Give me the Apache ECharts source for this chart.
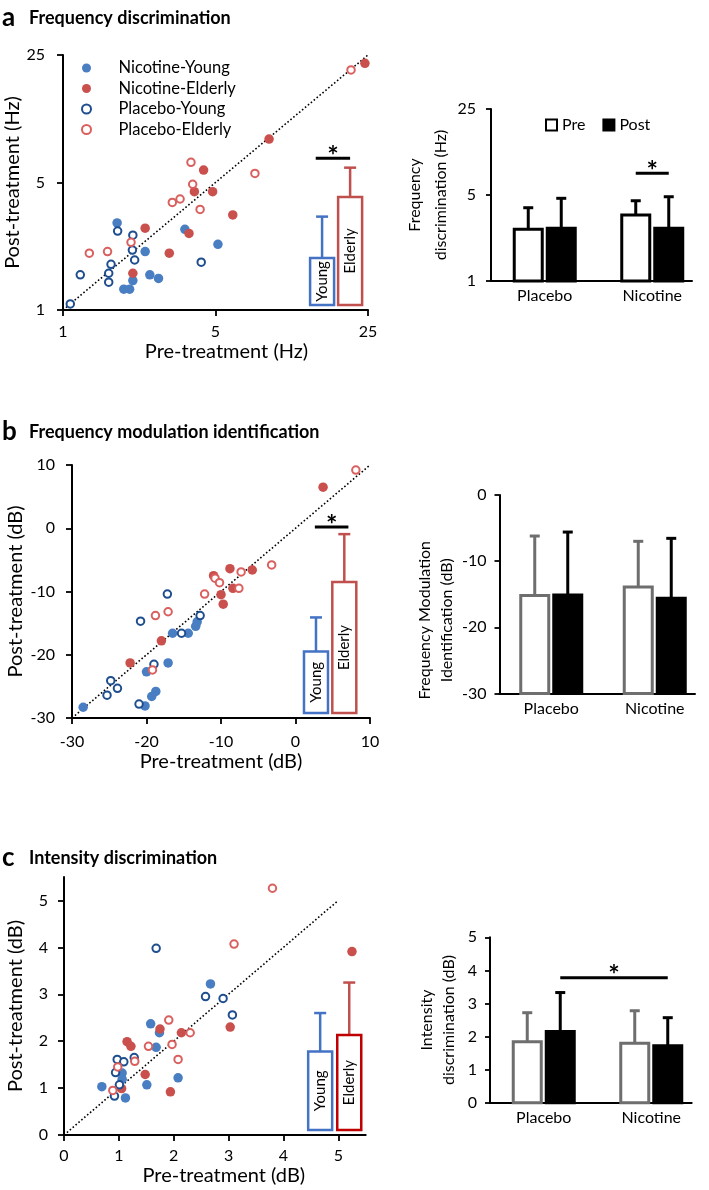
<!DOCTYPE html>
<html><head><meta charset="utf-8">
<script src="https://cdn.jsdelivr.net/npm/echarts@6/dist/echarts.min.js"></script>
<style>html,body{margin:0;padding:0;background:#fff}#c{width:709px;height:1190px}</style>
</head><body><div id="c"></div><script>
// ---------- DATA ----------
const legendNames = ['Nicotine-Young', 'Nicotine-Elderly', 'Placebo-Young', 'Placebo-Elderly'];
const categories = ['Placebo', 'Nicotine'];
const insetGroups = ['Young', 'Elderly'];

// Panel a: frequency discrimination (Hz), [pre, post]
const aNicYoung = [[1.77,3.0],[3.62,2.77],[2.38,2.09],[5.13,2.29],[2.5,1.56],[2.74,1.49],[2.09,1.45],[1.90,1.30],[2.02,1.30]];
const aNicElder = [[24.2,22.5],[8.8,8.65],[4.41,5.85],[4.0,4.45],[4.85,4.45],[6.0,3.32],[2.38,2.81],[3.78,2.63],[3.07,2.05],[2.09,1.59]];
const aPlaYoung = [[1.08,1.08],[1.2,1.56],[1.66,1.78],[1.62,1.59],[1.62,1.42],[1.78,2.71],[2.09,2.57],[2.08,2.13],[2.13,1.88],[4.3,1.83]];
const aPlaElder = [[20.9,20.7],[3.86,6.45],[7.58,5.61],[3.93,4.89],[3.44,4.06],[3.17,3.89],[4.25,3.56],[2.05,2.35],[1.32,2.05],[1.6,2.09]];
const aDiag = [[1,1],[25,25]];
const aInsetX = [15.4, 20.7];
const aInsetMean = [1.93, 4.17];
const aInsetErr = [3.25, 6.03];
const aInsetSig = [14.4, 20.7, 6.8];          // x from, x to, y
const aPre = [2.63, 3.44], aPreErr = [3.94, 4.49];
const aPost = [2.68, 2.68], aPostErr = [4.70, 4.84];
const aBarSig = [1, 7.5, 1, 0, 1];             // cat from, y, cat to, bar from, bar to

// Panel b: frequency modulation identification (dB)
const bNicYoung = [[-28.5,-28.3],[-20.2,-28.1],[-19.3,-26.6],[-18.75,-25.8],[-20,-22.7],[-17.1,-21.3],[-16.5,-16.6],[-14.4,-16.6],[-13.4,-15.5],[-13.2,-14.8]];
const bNicElder = [[3.7,6.5],[-8.8,-6.4],[-5.8,-6.6],[-11,-7.5],[-8.4,-9.5],[-10,-10.5],[-9.7,-12],[-18,-17.8],[-22.2,-21.3]];
const bPlaYoung = [[-17.2,-10.4],[-20.8,-14.7],[-12.8,-13.8],[-15.3,-16.6],[-19,-21.5],[-24.8,-24.1],[-23.9,-25.3],[-25.3,-26.4],[-21,-27.8]];
const bPlaElder = [[8.1,9.2],[-3.2,-5.8],[-7.3,-6.9],[-10.8,-7.9],[-10.2,-8.6],[-7.6,-9.5],[-12.2,-10.4],[-18.8,-13.8],[-17.1,-13.2],[-19.2,-22.4]];
const bDiag = [[-30,-30],[10,10]];
const bInsetX = [2.75, 6.55];
const bInsetMean = [-19.5, -8.5];
const bInsetErr = [-14.1, -0.93];
const bInsetSig = [2.6, 7.1, 0.2];
const bPre = [-15.2, -13.9], bPreErr = [-6.2, -7.0];
const bPost = [-15.1, -15.6], bPostErr = [-5.6, -6.55];

// Panel c: intensity discrimination (dB)
const cNicYoung = [[2.67,3.22],[1.58,2.37],[1.74,2.18],[1.68,1.87],[1.06,1.32],[1.06,1.19],[0.69,1.03],[1.51,1.07],[2.08,1.22],[1.12,0.79]];
const cNicElder = [[5.25,3.91],[3.03,2.30],[1.75,2.26],[2.14,2.18],[1.15,1.99],[1.22,1.89],[1.48,1.29],[1.94,0.92],[1.05,0.99]];
const cPlaYoung = [[1.68,3.98],[2.58,2.95],[2.90,2.91],[3.07,2.56],[1.28,1.65],[0.97,1.61],[1.09,1.56],[0.94,1.33],[1.01,1.07],[0.92,0.83]];
const cPlaElder = [[3.80,5.26],[3.10,4.07],[1.91,2.45],[2.30,2.18],[1.97,1.93],[1.54,1.89],[2.08,1.61],[1.29,1.57],[0.98,1.45],[0.89,0.95]];
const cDiag = [[0,0],[5,5]];
const cInsetX = [4.67, 5.20];
const cInsetMean = [1.78, 2.13];
const cInsetErr = [2.60, 3.25];
const cPre = [1.84, 1.80], cPreErr = [2.72, 2.78];
const cPost = [2.15, 1.72], cPostErr = [3.33, 2.57];
const cBarSig = [0, 3.78, 1, 1, 1];
const cTicks = [0, 1, 2, 3, 4, 5];

// ---------- STYLE ----------
const FONT = 'Lato, "Noto Sans", sans-serif';
const C_NY = '#4A7EC2', C_NE = '#C9504C', C_PY = '#1F4E8F', C_PE = '#D9605E';
const C_INS_Y = '#4472C4', C_INS_E = '#C0504D', C_INS_E2 = '#C00000';
const GREY = '#6E6E6E';
const BW = 28, BGAP = 5;

const axLine = {show: true, onZero: false, lineStyle: {color: '#000', width: 2}};
const tick = {show: true, length: 6, lineStyle: {color: '#000', width: 1.8}};
const noSplit = {show: false};
function lbl(m, extra) { return Object.assign({color: '#000', fontSize: 16, fontFamily: FONT, margin: m}, extra || {}); }
function nts(size, extra) { return Object.assign({color: '#000', fontSize: size, fontFamily: FONT}, extra || {}); }

function scatter(name, data, gi, filled, color) {
  return {
    type: 'scatter', name, data, xAxisIndex: gi, yAxisIndex: gi, symbol: 'circle',
    symbolSize: filled ? 9.5 : 7.5, z: 4,
    itemStyle: filled ? {color, opacity: 1} : {color: '#fff', borderColor: color, borderWidth: 2, opacity: 1},
    emphasis: {disabled: true}
  };
}
function diag(data, gi) {
  return {type: 'line', data, xAxisIndex: gi, yAxisIndex: gi, symbol: 'none', silent: true, z: 2,
    lineStyle: {color: '#000', width: 1.6, type: [1.6, 2.2]}};
}
function zip3(a, b, c) { return a.map((v, i) => [v, b[i], c[i]]); }
function barData(vals, errs) { return vals.map((v, i) => [i, v, errs[i]]); }

function insetSeries(gi, xs, means, errs, yMin, boxColors, errColors) {
  return {
    type: 'custom', xAxisIndex: gi, yAxisIndex: gi, z: 3, silent: true,
    data: zip3(xs, means, errs),
    renderItem: function (params, api) {
      const i = params.dataIndex;
      const x = api.value(0);
      const top = api.coord([x, api.value(1)]);
      const e = api.coord([x, api.value(2)]);
      const base = api.coord([x, yMin]);
      const cx = top[0], w = 24, by = base[1] - 5;
      return {type: 'group', children: [
        {type: 'line', shape: {x1: cx, y1: top[1], x2: cx, y2: e[1]}, style: {stroke: errColors[i], lineWidth: 2.5}},
        {type: 'line', shape: {x1: cx - 6, y1: e[1], x2: cx + 6, y2: e[1]}, style: {stroke: errColors[i], lineWidth: 2.5}},
        {type: 'rect', shape: {x: cx - w / 2, y: top[1], width: w, height: by - top[1]},
          style: {fill: '#fff', stroke: boxColors[i], lineWidth: 2.5}},
        {type: 'text', x: cx, y: (top[1] + by) / 2, rotation: Math.PI / 2,
          style: {text: insetGroups[i], font: '15px ' + FONT, fill: '#000', textAlign: 'center', textVerticalAlign: 'middle'}}
      ]};
    }
  };
}
function sigShape(x1, x2, y) {
  return [
    {type: 'line', shape: {x1, y1: y, x2, y2: y}, style: {stroke: '#000', lineWidth: 3}},
    {type: 'text', x: (x1 + x2) / 2, y: y - 2,
      style: {text: '*', font: 'bold 27px ' + FONT, fill: '#000', textAlign: 'center', textVerticalAlign: 'middle'}}
  ];
}
function scatterSig(gi, sig) {
  return {
    type: 'custom', xAxisIndex: gi, yAxisIndex: gi, z: 3, silent: true, data: [sig],
    renderItem: function (params, api) {
      const p1 = api.coord([api.value(0), api.value(2)]);
      const p2 = api.coord([api.value(1), api.value(2)]);
      return {type: 'group', children: sigShape(p1[0], p2[0], p1[1])};
    }
  };
}
function barSeries(name, gi, vals, errs, sign, fill, stroke, baseVal) {
  return {
    type: 'custom', name, xAxisIndex: gi, yAxisIndex: gi, z: 3, silent: true,
    itemStyle: {color: fill, borderColor: stroke, borderWidth: 2},
    data: barData(vals, errs),
    renderItem: function (params, api) {
      const cat = api.value(0);
      const p = api.coord([cat, api.value(1)]);
      const q = api.coord([cat, api.value(2)]);
      const b = api.coord([cat, baseVal]);
      const cx = p[0] + sign * (BW + BGAP) / 2;
      return {type: 'group', children: [
        {type: 'line', shape: {x1: cx, y1: p[1], x2: cx, y2: q[1]}, style: {stroke, lineWidth: 3}},
        {type: 'line', shape: {x1: cx - 5, y1: q[1], x2: cx + 5, y2: q[1]}, style: {stroke, lineWidth: 3}},
        {type: 'rect', shape: {x: cx - BW / 2, y: p[1], width: BW, height: b[1] - p[1]}, style: {fill, stroke, lineWidth: 3}}
      ]};
    }
  };
}
function barSig(gi, sig) {
  return {
    type: 'custom', xAxisIndex: gi, yAxisIndex: gi, z: 3, silent: true, data: [sig],
    renderItem: function (params, api) {
      const o = (BW + BGAP) / 2;
      const p1 = api.coord([api.value(0), api.value(1)]);
      const p2 = api.coord([api.value(2), api.value(1)]);
      const x1 = p1[0] + (api.value(3) ? o : -o);
      const x2 = p2[0] + (api.value(4) ? o : -o);
      return {type: 'group', children: sigShape(x1, x2, p1[1])};
    }
  };
}

// ---------- AXES ----------
const grids = [
  {left: 63, top: 55, width: 305, height: 255},
  {left: 491, top: 109, width: 215, height: 172},
  {left: 491, top: 109, width: 201, height: 172},
  {left: 72, top: 465, width: 298, height: 253},
  {left: 499.5, top: 495, width: 207, height: 198.5},
  {left: 499.5, top: 495, width: 195.5, height: 198.5},
  {left: 64, top: 877, width: 301.7, height: 258},
  {left: 490, top: 937.3, width: 215, height: 165.4},
  {left: 490, top: 937.3, width: 201.7, height: 165.4}
];
const lineOnlyX = gi => ({gridIndex: gi, type: 'value', min: 0, max: 1, axisLine: axLine, axisTick: {show: false}, axisLabel: {show: false}, splitLine: noSplit});
const lineOnlyY = gi => ({gridIndex: gi, type: 'value', min: 0, max: 1, show: false});
const catX = gi => ({gridIndex: gi, type: 'category', data: categories, axisLine: {show: false}, axisTick: {show: false}, axisLabel: lbl(7)});

const xAxes = [
  {gridIndex: 0, type: 'log', logBase: 5, min: 1, max: 25, axisLine: axLine, axisTick: tick, axisLabel: lbl(14), splitLine: noSplit,
    name: 'Pre-treatment (Hz)', nameLocation: 'middle', nameGap: 32, nameTextStyle: nts(20, {padding: [0, 0, 0, 22]})},
  catX(1), lineOnlyX(2),
  {gridIndex: 3, type: 'value', min: -30, max: 10, interval: 10, axisLine: axLine, axisTick: tick, axisLabel: lbl(16), splitLine: noSplit,
    name: 'Pre-treatment (dB)', nameLocation: 'middle', nameGap: 34, nameTextStyle: nts(20)},
  catX(4), lineOnlyX(5),
  {gridIndex: 6, type: 'value', min: 0, max: 5.5, interval: 1, axisLine: axLine,
    axisTick: Object.assign({customValues: cTicks}, tick), axisLabel: lbl(13, {customValues: cTicks}), splitLine: noSplit,
    name: 'Pre-treatment (dB)', nameLocation: 'middle', nameGap: 31, nameTextStyle: nts(20, {padding: [0, 0, 0, 18]})},
  catX(7), lineOnlyX(8)
];
const yAxes = [
  {gridIndex: 0, type: 'log', logBase: 5, min: 1, max: 25, axisLine: axLine, axisTick: tick, axisLabel: lbl(18), splitLine: noSplit,
    name: 'Post-treatment (Hz)', nameLocation: 'middle', nameRotate: 90, nameGap: 36, nameTextStyle: nts(20)},
  {gridIndex: 1, type: 'log', logBase: 5, min: 1, max: 25, axisLine: axLine, axisTick: Object.assign({}, tick, {length: 5}), axisLabel: lbl(15), splitLine: noSplit,
    name: 'Frequency\ndiscrimination (Hz)', nameLocation: 'middle', nameRotate: 90, nameGap: 26, nameTextStyle: nts(16, {lineHeight: 26})},
  lineOnlyY(2),
  {gridIndex: 3, type: 'value', min: -30, max: 10, interval: 10, axisLine: axLine, axisTick: tick, axisLabel: lbl(17), splitLine: noSplit,
    name: 'Post-treatment (dB)', nameLocation: 'middle', nameRotate: 90, nameGap: 46, nameTextStyle: nts(20)},
  {gridIndex: 4, type: 'value', min: -30, max: 0, interval: 10, axisLine: axLine, axisTick: Object.assign({}, tick, {length: 5}), axisLabel: lbl(13), splitLine: noSplit,
    name: 'Frequency Modulation\nIdentification (dB)', nameLocation: 'middle', nameRotate: 90, nameGap: 34, nameTextStyle: nts(16, {lineHeight: 22, padding: [0, 52, 0, 0]})},
  lineOnlyY(5),
  {gridIndex: 6, type: 'value', min: 0, max: 5.5, interval: 1, axisLine: axLine,
    axisTick: Object.assign({customValues: cTicks}, tick), axisLabel: lbl(16, {customValues: cTicks}), splitLine: noSplit,
    name: 'Post-treatment (dB)', nameLocation: 'middle', nameRotate: 90, nameGap: 38, nameTextStyle: nts(20)},
  {gridIndex: 7, type: 'value', min: 0, max: 5, interval: 1, axisLine: axLine, axisTick: Object.assign({}, tick, {length: 5}), axisLabel: lbl(13), splitLine: noSplit,
    name: 'Intensity\ndiscrimination (dB)', nameLocation: 'middle', nameRotate: 90, nameGap: 30, nameTextStyle: nts(16, {lineHeight: 22})},
  lineOnlyY(8)
];

// ---------- SERIES ----------
const series = [
  diag(aDiag, 0),
  scatter(legendNames[0], aNicYoung, 0, true, C_NY),
  scatter(legendNames[1], aNicElder, 0, true, C_NE),
  scatter(legendNames[2], aPlaYoung, 0, false, C_PY),
  scatter(legendNames[3], aPlaElder, 0, false, C_PE),
  insetSeries(0, aInsetX, aInsetMean, aInsetErr, 1, [C_INS_Y, C_INS_E], [C_INS_Y, C_INS_E]),
  scatterSig(0, aInsetSig),
  barSeries('Pre', 1, aPre, aPreErr, -1, '#fff', '#000', 1),
  barSeries('Post', 1, aPost, aPostErr, 1, '#000', '#000', 1),
  barSig(1, aBarSig),

  diag(bDiag, 3),
  scatter(legendNames[0], bNicYoung, 3, true, C_NY),
  scatter(legendNames[1], bNicElder, 3, true, C_NE),
  scatter(legendNames[2], bPlaYoung, 3, false, C_PY),
  scatter(legendNames[3], bPlaElder, 3, false, C_PE),
  insetSeries(3, bInsetX, bInsetMean, bInsetErr, -30, [C_INS_Y, C_INS_E], [C_INS_Y, C_INS_E]),
  scatterSig(3, bInsetSig),
  barSeries('Pre (FM)', 4, bPre, bPreErr, -1, '#fff', GREY, -30),
  barSeries('Post (FM)', 4, bPost, bPostErr, 1, '#000', '#000', -30),

  diag(cDiag, 6),
  scatter(legendNames[0], cNicYoung, 6, true, C_NY),
  scatter(legendNames[1], cNicElder, 6, true, C_NE),
  scatter(legendNames[2], cPlaYoung, 6, false, C_PY),
  scatter(legendNames[3], cPlaElder, 6, false, C_PE),
  insetSeries(6, cInsetX, cInsetMean, cInsetErr, 0, [C_INS_Y, C_INS_E2], [C_INS_Y, C_INS_E]),
  barSeries('Pre (ID)', 7, cPre, cPreErr, -1, '#fff', GREY, 0),
  barSeries('Post (ID)', 7, cPost, cPostErr, 1, '#000', '#000', 0),
  barSig(7, cBarSig)
];

// ---------- TITLES ----------
function panelTitle(letter, text, y) {
  return [
    {type: 'text', x: 2, y: y, style: {text: letter, font: 'bold 26px ' + FONT, fill: '#000', textVerticalAlign: 'middle'}},
    {type: 'text', x: 29, y: y, style: {text: text, font: 'bold 18px ' + FONT, fill: '#000', textVerticalAlign: 'middle'}}
  ];
}

const option = {
  animation: false,
  backgroundColor: '#fff',
  textStyle: {fontFamily: FONT},
  grid: grids,
  xAxis: xAxes,
  yAxis: yAxes,
  legend: [
    {data: legendNames, left: 76, top: 54, orient: 'vertical', icon: 'circle', itemWidth: 10, itemHeight: 9, itemGap: 2.5,
      selectedMode: false, textStyle: {fontSize: 16.5, color: '#000', fontFamily: FONT, lineHeight: 18, padding: [0, 0, 0, 22]}},
    {data: [{name: 'Pre', itemStyle: {color: '#fff', borderColor: '#000', borderWidth: 2}},
            {name: 'Post', itemStyle: {color: '#000', borderColor: '#000', borderWidth: 2}}],
      left: 540, top: 112, orient: 'horizontal', icon: 'rect', itemWidth: 11, itemHeight: 11, itemGap: 17,
      selectedMode: false, textStyle: {fontSize: 16, color: '#000', fontFamily: FONT}}
  ],
  graphic: [].concat(
    panelTitle('a', 'Frequency discrimination', 18),
    panelTitle('b', 'Frequency modulation identification', 432),
    panelTitle('c', 'Intensity discrimination', 858)
  ),
  series: series
};

const chart = echarts.init(document.getElementById('c'), null, {renderer: 'canvas', width: 709, height: 1190});
chart.setOption(option);
</script></body></html>
